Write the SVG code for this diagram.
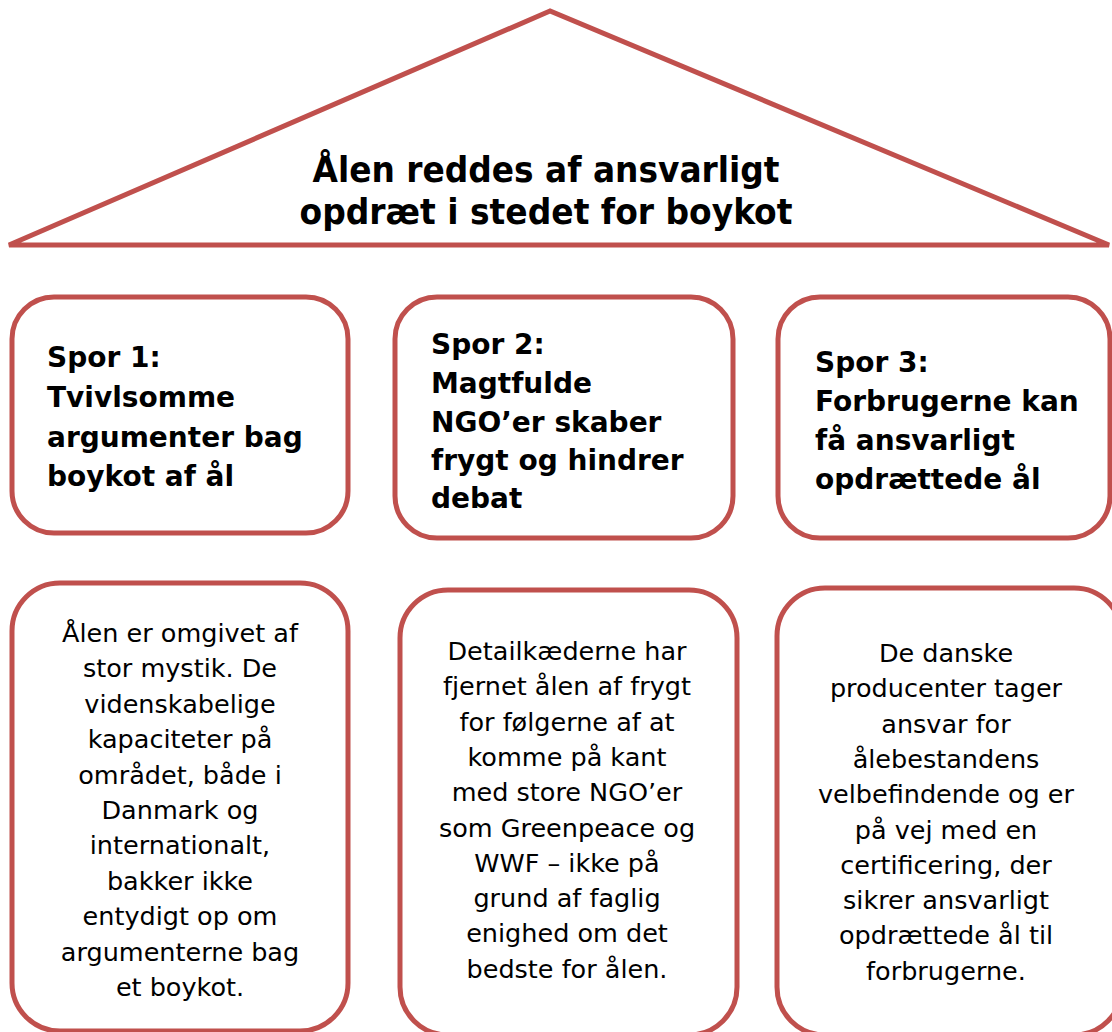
<svg xmlns="http://www.w3.org/2000/svg" width="1112" height="1032" viewBox="0 0 1112 1032">
<style>
.shape{fill:#FFFFFF;stroke:#C0504D;stroke-width:5}
.title{font-family:"DejaVu Sans Condensed","DejaVu Sans",sans-serif;font-weight:bold;font-size:36px;fill:#000}
.head{font-family:"DejaVu Sans","Verdana",sans-serif;font-weight:bold;font-size:28px;fill:#000}
.body{font-family:"DejaVu Sans","Verdana",sans-serif;font-size:25.5px;fill:#000;text-anchor:middle}
</style>
<rect width="1112" height="1032" fill="#FFFFFF"/>
<g id="roof">
<polygon class="shape" points="550,11 9,245 1109,245" stroke-width="5.5"/>
<text class="title" x="546" y="182" text-anchor="middle" textLength="467" lengthAdjust="spacingAndGlyphs">Ålen reddes af ansvarligt</text>
<text class="title" x="546" y="224" text-anchor="middle" textLength="493" lengthAdjust="spacingAndGlyphs">opdræt i stedet for boykot</text>
</g>
<g id="spor1">
<rect class="shape" x="12" y="297" width="336" height="236" rx="42"/>
<text class="head"><tspan x="47" y="367">Spor 1:</tspan><tspan x="47" y="407">Tvivlsomme</tspan><tspan x="47" y="447">argumenter bag</tspan><tspan x="47" y="486">boykot af ål</tspan></text>
</g>
<g id="spor2">
<rect class="shape" x="395" y="297" width="338" height="241" rx="42"/>
<text class="head"><tspan x="431" y="354">Spor 2:</tspan><tspan x="431" y="393">Magtfulde</tspan><tspan x="431" y="432">NGO’er skaber</tspan><tspan x="431" y="470">frygt og hindrer</tspan><tspan x="431" y="508">debat</tspan></text>
</g>
<g id="spor3">
<rect class="shape" x="778" y="297" width="332" height="241" rx="42"/>
<text class="head"><tspan x="815" y="372">Spor 3:</tspan><tspan x="815" y="411">Forbrugerne kan</tspan><tspan x="815" y="450">få ansvarligt</tspan><tspan x="815" y="489">opdrættede ål</tspan></text>
</g>
<g id="tekst1">
<rect class="shape" x="12" y="583" width="336" height="448" rx="48"/>
<text class="body"><tspan x="180" y="642">Ålen er omgivet af</tspan><tspan x="180" y="677.4">stor mystik. De</tspan><tspan x="180" y="712.8">videnskabelige</tspan><tspan x="180" y="748.2">kapaciteter på</tspan><tspan x="180" y="783.6">området, både i</tspan><tspan x="180" y="819">Danmark og</tspan><tspan x="180" y="854.4">internationalt,</tspan><tspan x="180" y="889.8">bakker ikke</tspan><tspan x="180" y="925.2">entydigt op om</tspan><tspan x="180" y="960.6">argumenterne bag</tspan><tspan x="180" y="996">et boykot.</tspan></text>
</g>
<g id="tekst2">
<rect class="shape" x="400" y="590" width="337" height="445" rx="48"/>
<text class="body"><tspan x="567" y="660">Detailkæderne har</tspan><tspan x="567" y="695.3">fjernet ålen af frygt</tspan><tspan x="567" y="730.6">for følgerne af at</tspan><tspan x="567" y="765.9">komme på kant</tspan><tspan x="567" y="801.2">med store NGO’er</tspan><tspan x="567" y="836.5">som Greenpeace og</tspan><tspan x="567" y="871.8">WWF – ikke på</tspan><tspan x="567" y="907.1">grund af faglig</tspan><tspan x="567" y="942.4">enighed om det</tspan><tspan x="567" y="977.7">bedste for ålen.</tspan></text>
</g>
<g id="tekst3">
<rect class="shape" x="777" y="588" width="345" height="447" rx="48"/>
<text class="body"><tspan x="946" y="662">De danske</tspan><tspan x="946" y="697.3">producenter tager</tspan><tspan x="946" y="732.6">ansvar for</tspan><tspan x="946" y="767.9">ålebestandens</tspan><tspan x="946" y="803.2">velbefindende og er</tspan><tspan x="946" y="838.5">på vej med en</tspan><tspan x="946" y="873.8">certificering, der</tspan><tspan x="946" y="909.1">sikrer ansvarligt</tspan><tspan x="946" y="944.4">opdrættede ål til</tspan><tspan x="946" y="979.7">forbrugerne.</tspan></text>
</g>
<g id="connectors"></g>
</svg>
